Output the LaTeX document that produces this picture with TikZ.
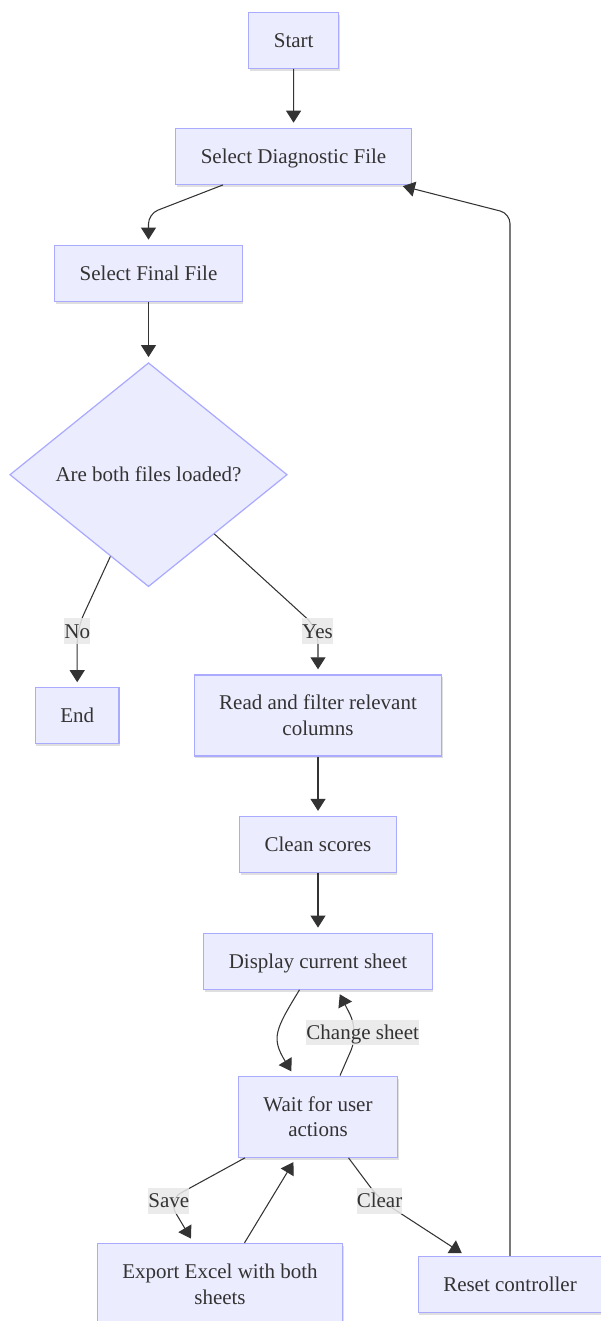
\documentclass[tikz,border=0pt]{standalone}
\usepackage{fontspec}
\setmainfont{Liberation Serif}
\usepackage{xcolor}
\usepackage{tikz}
\usetikzlibrary{positioning, shapes.geometric, arrows.meta, shadows}

\definecolor{boxfill}{HTML}{ECECFF}
\definecolor{boxline}{HTML}{AAAAFF}
\definecolor{linkcol}{HTML}{333333}
\definecolor{lblfill}{HTML}{E8E8E8}

\begin{document}
\begin{tikzpicture}[x=0.02cm, y=-0.02cm,
    every node/.style={font=\fontsize{11.95pt}{14.6pt}\selectfont, text=linkcol},
    proc/.style={draw=boxline, fill=boxfill, line width=0.7pt, inner xsep=0.5cm, inner ysep=0pt,
      minimum height=1.12cm, text height=9.5pt, text depth=1.6pt,
      drop shadow={shadow xshift=0.6pt, shadow yshift=-1.4pt, opacity=0.25}},
    proc2/.style={draw=boxline, fill=boxfill, line width=0.7pt, inner xsep=0.5cm, inner ysep=0pt,
      minimum height=1.62cm, align=center,
      drop shadow={shadow xshift=0.6pt, shadow yshift=-1.4pt, opacity=0.25}},
    decide/.style={diamond, draw=boxline, fill=boxfill, line width=0.7pt, inner sep=0pt,
      minimum width=5.55cm, minimum height=4.48cm, text height=9.5pt, text depth=1.6pt},
    lbl/.style={fill=lblfill, fill opacity=0.85, text opacity=1, inner xsep=0pt, inner ysep=0pt,
      minimum height=0.514cm, text height=9.5pt, text depth=1.6pt},
    flow/.style={draw=linkcol, line width=0.6pt, -{Triangle[length=0.24cm, width=0.3cm]}, shorten >=0.1cm}]

  \useasboundingbox (0,0) rectangle (600,1321);

  % steps
  \node[proc] (start) at (293.7,40.3) {Start};
  \node[proc] (seldiag) at (293.5,156.3) {Select Diagnostic File};
  \node[proc] (selfinal) at (148.5,273.2) {Select Final File};
  \node[decide] (loaded) at (148.5,474.7) {Are both files loaded?};
  \node[proc] (endnode) at (77.2,715.8) {End};
  \node[proc2] (readcols) at (318,715.4) {Read and filter relevant\\columns};
  \node[proc] (clean) at (318,844.5) {Clean scores};
  \node[proc] (display) at (318,961.2) {Display current sheet};
  \node[proc2] (waitact) at (318,1116.7) {Wait for user\\actions};
  \node[proc2] (export) at (220,1284) {Export Excel with both\\sheets};
  \node[proc] (reset) at (510,1284.5) {Reset controller};

  % straight links
  \foreach \a/\b in {start/seldiag, selfinal/loaded, readcols/clean, clean/display}
    \draw[flow] (\a) -- (\b);

  \draw[flow, rounded corners=0.2cm] ([xshift=-1.41cm]seldiag.south) -- (148.5,213.8) -- (selfinal.north);

  % decision
  \draw[flow, rounded corners=0.3cm] (loaded.245) -- (77.2,628.5) -- (endnode.north);
  \draw[flow, rounded corners=0.3cm] (loaded.318) -- (318,628.6) -- (readcols.north);

  % loop around the sheet view
  \draw[flow] ([xshift=-0.37cm]display.south) .. controls (275,1030) and (271,1038) .. ([xshift=-0.48cm]waitact.north);
  \draw[flow, rounded corners=0.4cm] ([xshift=0.44cm]waitact.north) -- (359,1032) -- ([xshift=0.39cm]display.south);

  % user actions
  \draw[flow, rounded corners=0.3cm] ([xshift=-1.46cm]waitact.south) -- (168,1200) -- ([xshift=-0.53cm]export.north);
  \draw[flow] ([xshift=0.49cm]export.north) -- ([xshift=-0.44cm]waitact.south);
  \draw[flow, rounded corners=0.3cm] ([xshift=0.61cm]waitact.south) -- (380,1200) -- ([xshift=-0.88cm]reset.north);
  \draw[flow, rounded corners=0.2cm] (reset.north) -- (510,213.5) -- ([xshift=2.09cm]seldiag.south);

  % edge labels
  \node[lbl] (nolbl) at (77.2,631.2) {No};
  \node[lbl] (yeslbl) at (317.5,631.2) {Yes};
  \node[lbl] (chglbl) at (362.7,1032.5) {Change sheet};
  \node[lbl] (savelbl) at (168.8,1200.8) {Save};
  \node[lbl] (clrlbl) at (379.5,1200.8) {Clear};
\end{tikzpicture}
\end{document}
